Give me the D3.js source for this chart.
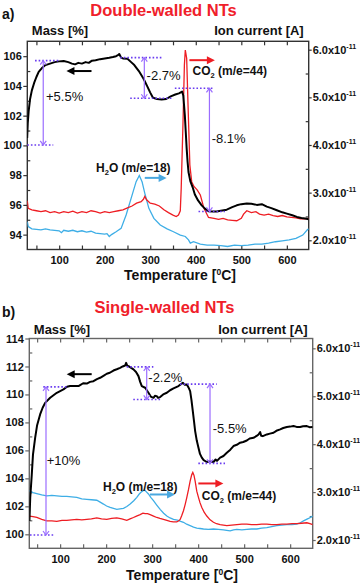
<!DOCTYPE html>
<html><head><meta charset="utf-8">
<script src="https://cdn.jsdelivr.net/npm/d3@7"></script>
<style>body{margin:0;background:#fff}svg{display:block}</style>
</head><body><svg id="c" width="360" height="583"></svg>
<script>
const FONT = '"Liberation Sans", Arial, sans-serif';
// ---- shared ticks ----
const tempTicks = [100, 200, 300, 400, 500, 600];
const tempMinor = [50, 100, 150, 200, 250, 300, 350, 400, 450, 500, 550, 600];
const ionTicks = [2, 3, 4, 5, 6];          // x10^-11 A
const ionMinor = [2.5, 3.5, 4.5, 5.5];
const massTicksA = [94, 96, 98, 100, 102, 104, 106];
const massMinorA = [95, 97, 99, 101, 103, 105];
const massTicksB = [100, 102, 104, 106, 108, 110, 112, 114];
const massMinorB = [101, 103, 105, 107, 109, 111, 113];

// ---- panel a: double-walled ----
const aMass = [[29.7,100.5],[31,101.5],[33,102.3],[36,103.1],[40,103.7],[45,104.2],[50,104.6],[55,104.95],[62,105.2],[70,105.4],[80,105.5],[90,105.6],[100,105.65],[110,105.68],[120,105.6],[128,105.5],[135,105.45],[142,105.55],[150,105.5],[158,105.6],[165,105.55],[172,105.7],[180,105.72],[190,105.8],[200,105.85],[210,105.9],[218,105.95],[225,106.0],[230,106.08],[232,106.15],[236,105.9],[240,105.85],[250,105.82],[258,105.6],[265,105.4],[275,105.0],[285,104.5],[293,104.0],[300,103.55],[306,103.2],[315,103.12],[325,103.08],[335,103.12],[345,103.3],[355,103.42],[363,103.5],[370,103.62],[372.5,103.36],[374,102.8],[376,102.0],[378,100.9],[380,99.78],[382,98.9],[384,98.21],[388,97.6],[393,97.2],[398,96.7],[405,96.3],[413,95.97],[420,95.75],[428,95.57],[438,95.55],[446,95.55],[455,95.6],[468,95.68],[480,95.85],[490,95.97],[500,96.05],[512,96.1],[522,96.08],[534,96.0],[545,96.05],[556,95.88],[566,95.78],[578,95.64],[590,95.5],[600,95.41],[612,95.3],[622,95.19],[632,95.12],[640,95.08],[648,95.03]];
const aCO2 = [[30,2.83],[32,2.67],[40,2.64],[50,2.62],[60,2.6],[70,2.62],[80,2.58],[90,2.6],[100,2.57],[110,2.6],[120,2.58],[130,2.61],[140,2.57],[150,2.6],[160,2.58],[170,2.62],[180,2.6],[190,2.57],[200,2.6],[210,2.58],[220,2.6],[230,2.62],[240,2.64],[250,2.68],[260,2.72],[270,2.78],[280,2.81],[285,2.86],[288,2.92],[292,2.85],[300,2.78],[310,2.76],[320,2.72],[330,2.64],[340,2.58],[350,2.53],[357,2.5],[362,2.53],[366,2.62],[368,3.09],[372,4.49],[375,5.68],[377,5.99],[380,5.82],[383,4.84],[387,3.58],[391,3.23],[396,3.13],[403,3.06],[410,2.95],[418,2.67],[428,2.48],[440,2.46],[450,2.44],[460,2.46],[470,2.43],[480,2.42],[490,2.41],[500,2.46],[505,2.55],[512,2.62],[522,2.58],[532,2.6],[540,2.55],[550,2.53],[560,2.55],[570,2.52],[580,2.5],[590,2.52],[600,2.49],[610,2.48],[620,2.47],[630,2.45],[640,2.45],[648,2.46]];
const aH2O = [[30,2.39],[32,2.29],[40,2.24],[50,2.23],[60,2.22],[70,2.24],[80,2.22],[90,2.21],[100,2.2],[105,2.16],[110,2.21],[120,2.19],[130,2.21],[140,2.18],[150,2.2],[160,2.17],[170,2.19],[180,2.15],[190,2.14],[200,2.13],[205,2.14],[210,2.08],[215,2.12],[225,2.18],[236,2.25],[247,2.53],[258,2.88],[269,3.23],[276,3.36],[282,3.23],[289,2.95],[297,2.67],[308,2.46],[322,2.32],[337,2.24],[351,2.18],[366,2.11],[377,2.08],[384,2.01],[388,1.94],[395,1.97],[410,1.92],[425,1.9],[440,1.9],[455,1.89],[470,1.87],[485,1.9],[500,1.89],[515,1.9],[530,1.92],[545,1.92],[560,1.94],[575,1.97],[590,1.99],[605,2.01],[620,2.04],[635,2.11],[645,2.22],[648,2.24]];
// steps: temperature of arrow, low/high mass, dotted extents, label position
const aSteps = [
  {label:"+5.5%", t:65, lo:100.03, hi:105.7, loSpan:[30,87], hiSpan:[47,102], lt:71, lm:103.28},
  {label:"-2.7%", t:287, lo:103.17, hi:105.9, loSpan:[256,351], hiSpan:[234,325], lt:292, lm:104.73},
  {label:"-8.1%", t:430, lo:95.56, hi:103.84, loSpan:[406,464], hiSpan:[354,438], lt:435, lm:100.47}
];
const aArrows = [
  {axis:"mass", t0:171, t1:116, v:105.0, color:"#000"},
  {axis:"ion", t0:386, t1:442, v:5.78, color:"#ee1d23"},
  {axis:"ion", t0:288, t1:336, v:3.31, color:"#4aa8e0"}
];
const aGasLabels = [
  {name:"H", sub:"2", rest:"O (m/e=18)", t:181, ion:3.52},
  {name:"CO", sub:"2", rest:" (m/e=44)", t:393, ion:5.55}
];

// ---- panel b: single-walled ----
const bMass = [[33.3,100.95],[35,102.6],[38.4,104.29],[41,105.7],[45.7,106.9],[50,107.8],[56.5,108.57],[62,109.05],[67.4,109.4],[78.3,109.76],[92.8,110.12],[107.2,110.36],[115,110.55],[121.7,110.6],[139.9,110.6],[143.5,110.67],[150,110.8],[158,110.78],[165,110.9],[172.5,110.95],[180,111.1],[187,111.19],[195,111.35],[201.4,111.48],[208,111.55],[215.9,111.71],[223,111.8],[230.4,111.9],[236,112.0],[241.3,112.07],[243.5,112.26],[246,112.05],[248.6,112.02],[259.4,111.79],[265,111.6],[270.3,111.31],[274,110.9],[277.5,110.6],[284.8,110.48],[292,110.12],[297,109.85],[302.9,109.76],[306,109.9],[310.1,109.88],[313,109.75],[317.4,109.81],[324,110.0],[331.9,110.12],[339,110.3],[346.4,110.43],[357.2,110.6],[362,110.72],[366.7,110.83],[371,110.7],[375.4,110.71],[379,110.5],[382.6,110.24],[385.5,109.6],[388.4,108.81],[391,108.1],[393.5,107.38],[397,106.7],[400.7,106.19],[404,105.75],[408,105.48],[412,105.3],[418.8,105.17],[425,105.2],[433.3,105.17],[438,105.35],[441,105.25],[447.8,105.48],[455,105.6],[462.3,105.83],[470,106.05],[476.8,106.31],[484,106.4],[491.3,106.55],[498,106.6],[505.8,106.71],[512,106.85],[520.3,106.9],[528,107.05],[531.2,107.14],[534.8,107.31],[537,107.05],[540.6,107.02],[549.3,107.14],[556,107.2],[563.8,107.26],[570,107.4],[578.3,107.5],[585,107.6],[592.8,107.67],[600,107.7],[607.2,107.74],[614,107.68],[621.7,107.67],[628,107.72],[636.2,107.74],[642,107.66],[649,107.67]];
const bH2O = [[33.3,3.03],[41,2.99],[49.3,2.97],[60,2.94],[71,2.92],[82,2.93],[92.8,2.92],[104,2.91],[114.5,2.91],[125,2.9],[136.2,2.89],[147,2.86],[158,2.85],[168,2.84],[179.7,2.83],[187,2.79],[194.2,2.75],[201,2.71],[208.7,2.68],[216,2.66],[223.2,2.64],[230,2.65],[237.7,2.66],[245,2.7],[252.2,2.75],[260,2.82],[266.7,2.89],[272,2.96],[277.5,3.01],[282,3.04],[284.8,3.03],[288,3.0],[292,2.96],[297,2.89],[302.9,2.82],[310,2.73],[317.4,2.64],[325,2.56],[331.9,2.5],[339,2.46],[346.4,2.43],[352,2.42],[357.2,2.41],[362,2.39],[368.1,2.37],[375,2.33],[382.6,2.3],[390,2.27],[397.1,2.25],[404,2.24],[411.6,2.23],[422,2.22],[433.3,2.23],[444,2.22],[455.1,2.21],[462,2.2],[469.6,2.19],[477,2.21],[484.1,2.22],[495,2.21],[505.8,2.22],[516,2.23],[527.5,2.23],[538,2.25],[549.3,2.26],[560,2.28],[571,2.3],[582,2.31],[592.8,2.32],[604,2.32],[614.5,2.33],[622,2.36],[629,2.4],[640,2.45],[649,2.5]];
const bCO2 = [[33.3,2.5],[41,2.49],[49.3,2.47],[60,2.43],[71,2.4],[82,2.4],[92.8,2.39],[104,2.41],[114.5,2.41],[125,2.42],[136.2,2.43],[147,2.42],[158,2.43],[168,2.44],[179.7,2.46],[190,2.44],[201.4,2.43],[212,2.45],[223.2,2.46],[234,2.44],[244.9,2.41],[252,2.44],[259.4,2.47],[266,2.5],[273.9,2.53],[280,2.56],[284.8,2.55],[290,2.55],[295.7,2.53],[303,2.5],[310.1,2.47],[317,2.45],[324.6,2.43],[332,2.41],[339.1,2.39],[346,2.38],[353.6,2.38],[358,2.4],[360.9,2.43],[364,2.5],[368.1,2.61],[372,2.75],[375.4,2.89],[379,3.05],[382.6,3.23],[386,3.36],[388.4,3.41],[391,3.35],[393.5,3.23],[397,3.02],[400.7,2.89],[404,2.78],[408,2.68],[413,2.58],[418.8,2.5],[426,2.42],[433.3,2.37],[440,2.34],[447.8,2.32],[455,2.31],[462.3,2.3],[473,2.31],[484.1,2.32],[495,2.33],[505.8,2.33],[516,2.32],[527.5,2.32],[538,2.33],[549.3,2.33],[560,2.32],[571,2.32],[582,2.33],[592.8,2.33],[604,2.34],[614.5,2.34],[625,2.35],[636.2,2.36],[643,2.34],[649,2.32]];
const bSteps = [
  {label:"+10%", t:69.3, lo:99.95, hi:110.54, loSpan:[34.5,89], hiSpan:[63.4,118], lt:70.8, lm:105.26},
  {label:"-2.2%", t:288.2, lo:109.64, hi:111.97, loSpan:[259,321], hiSpan:[244.7,302.6], lt:291.7, lm:111.21},
  {label:"-5.5%", t:425.8, lo:105.07, hi:110.74, loSpan:[400.4,458.4], hiSpan:[360.6,440.4], lt:431.7, lm:107.57}
];
const bArrows = [
  {axis:"mass", t0:168.6, t1:114.3, v:111.45, color:"#000"},
  {axis:"ion", t0:295.4, t1:349.8, v:2.95, color:"#4aa8e0"},
  {axis:"ion", t0:400.4, t1:454.8, v:3.18, color:"#ee1d23"}
];
const bGasLabels = [
  {name:"H", sub:"2", rest:"O (m/e=18)", t:193.2, ion:3.11},
  {name:"CO", sub:"2", rest:" (m/e=44)", t:407.8, ion:2.92}
];

const svg = d3.select("#c");
const RED = "#ee1d23", BLUE = "#3eaee6", PURPLE_DOT = "#6a3cf0", PURPLE = "#9b6dff";

function drawPanel(P) {
  const g = svg.append("g");
  const x = d3.scaleLinear().domain(P.tDom).range([P.L, P.R]);
  const yM = d3.scaleLinear().domain(P.mDom).range([P.B, P.T]);
  const yI = d3.scaleLinear().domain(P.iDom).range([P.B, P.T]);

  const ax = (gen, tx, ty) => {
    const a = g.append("g").attr("transform", `translate(${tx},${ty})`).call(gen);
    a.select(".domain").remove();
    a.selectAll("line").attr("stroke", P.axCol).attr("stroke-width", 1.2);
    a.selectAll("text").attr("font-family", FONT).attr("font-weight", "bold").attr("font-size", 11).attr("fill", "#111");
    return a;
  };
  ax(d3.axisBottom(x).tickValues(tempMinor).tickSize(-4).tickPadding(P.xPad).tickFormat(d => tempTicks.includes(d) ? d : ""), 0, P.B);
  ax(d3.axisTop(x).tickValues(tempMinor).tickSize(-4).tickFormat(""), 0, P.T);
  ax(d3.axisLeft(yM).tickValues(P.mTicks).tickSize(4).tickPadding(1.5), P.L, 0);
  ax(d3.axisLeft(yM).tickValues(P.mMinor).tickSize(-3).tickFormat(""), P.L, 0);
  const r = ax(d3.axisRight(yI).tickValues(ionTicks).tickSize(3).tickPadding(1).tickFormat(""), P.R, 0);
  r.selectAll(".tick text").each(function(d) {
    const t = d3.select(this);
    t.append("tspan").text(d.toFixed(1) + "x10");
    t.append("tspan").attr("font-size", 7).attr("dy", -5).text("-11");
  });
  ax(d3.axisRight(yI).tickValues(ionMinor).tickSize(-3).tickFormat(""), P.R, 0);

  g.append("rect").attr("x", P.L).attr("y", P.T).attr("width", P.R - P.L).attr("height", P.B - P.T)
    .attr("fill", "none").attr("stroke", P.axCol).attr("stroke-width", 1.4);

  const cid = "clip" + P.id;
  svg.append("clipPath").attr("id", cid).append("rect")
    .attr("x", P.L).attr("y", P.T).attr("width", P.R - P.L).attr("height", P.B - P.T);
  const plot = g.append("g").attr("clip-path", `url(#${cid})`);

  const lineI = d3.line().x(d => x(d[0])).y(d => yI(d[1]));
  const lineM = d3.line().x(d => x(d[0])).y(d => yM(d[1]));
  plot.append("path").datum(P.h2o).attr("d", lineI).attr("fill", "none").attr("stroke", BLUE).attr("stroke-width", 1.3);
  plot.append("path").datum(P.co2).attr("d", lineI).attr("fill", "none").attr("stroke", RED).attr("stroke-width", 1.3);
  plot.append("path").datum(P.mass).attr("d", lineM).attr("fill", "none").attr("stroke", "#000").attr("stroke-width", 2).attr("stroke-linejoin", "round");

  // mass steps
  P.steps.forEach(s => {
    const dot = (t0, t1, m) => g.append("line").attr("x1", x(t0)).attr("x2", x(t1)).attr("y1", yM(m)).attr("y2", yM(m))
      .attr("stroke", PURPLE_DOT).attr("stroke-width", 1.6).attr("stroke-dasharray", "1.6,2");
    dot(s.hiSpan[0], s.hiSpan[1], s.hi);
    dot(s.loSpan[0], s.loSpan[1], s.lo);
    const xv = x(s.t), y1 = yM(s.hi), y2 = yM(s.lo);
    g.append("line").attr("x1", xv).attr("x2", xv).attr("y1", y1).attr("y2", y2).attr("stroke", PURPLE).attr("stroke-width", 1.2);
    g.append("path").attr("d", `M${xv-3},${y1+4}L${xv},${y1}L${xv+3},${y1+4}M${xv-3},${y2-4}L${xv},${y2}L${xv+3},${y2-4}`)
      .attr("fill", "none").attr("stroke", PURPLE).attr("stroke-width", 1.2);
    g.append("text").attr("x", x(s.lt)).attr("y", yM(s.lm)).attr("dy", "0.35em")
      .attr("font-family", FONT).attr("font-size", 13).attr("fill", "#111").text(s.label);
  });

  // direction arrows
  P.arrows.forEach(a => {
    const y = a.axis === "mass" ? yM(a.v) : yI(a.v);
    const x0 = x(a.t0), x1 = x(a.t1), dir = Math.sign(x1 - x0);
    g.append("line").attr("x1", x0).attr("x2", x1 - dir * 6).attr("y1", y).attr("y2", y).attr("stroke", a.color).attr("stroke-width", 2);
    g.append("path").attr("d", `M${x1},${y}L${x1 - dir*8},${y-4}L${x1 - dir*8},${y+4}Z`).attr("fill", a.color);
  });

  // gas labels
  P.gas.forEach(l => {
    const t = g.append("text").attr("x", x(l.t)).attr("y", yI(l.ion)).attr("dy", "0.35em")
      .attr("font-family", FONT).attr("font-weight", "bold").attr("font-size", 12).attr("fill", "#111");
    t.append("tspan").text(l.name);
    t.append("tspan").attr("font-size", 7.5).attr("dy", 3).text(l.sub);
    t.append("tspan").attr("dy", -3).text(l.rest);
  });

  // titles
  const txt = (xx, yy, s, size, anchor, fill) => g.append("text").attr("x", xx).attr("y", yy).attr("text-anchor", anchor || "start")
    .attr("font-family", FONT).attr("font-weight", "bold").attr("font-size", size).attr("fill", fill || "#111").text(s);
  txt(2, P.titleY + 3.5, P.tag, 14);
  txt(P.titleX, P.titleY, P.title, 16.5, "middle", "#f0202a");
  txt(P.L + 4.5, P.headY, "Mass [%]", 13);
  txt(P.R - 5, P.headY, "Ion current [A]", 13, "end");
  const tl = g.append("text").attr("x", P.tempX).attr("y", P.tempY).attr("text-anchor", "middle")
    .attr("font-family", FONT).attr("font-weight", "bold").attr("font-size", 14).attr("fill", "#111");
  tl.append("tspan").text("Temperature [");
  tl.append("tspan").attr("font-size", 8.5).attr("dy", -5).text("0");
  tl.append("tspan").attr("dy", 5).text("C]");
}

drawPanel({id:"a", L:27.3, R:308.7, T:41.3, B:249.5, tDom:[30,648], mDom:[93,107], iDom:[1.807,6.176],
  mTicks:massTicksA, mMinor:massMinorA, axCol:"#333", xPad:7,
  mass:aMass, co2:aCO2, h2o:aH2O, steps:aSteps, arrows:aArrows, gas:aGasLabels,
  tag:"a)", title:"Double-walled NTs", titleX:163.5, titleY:15.5, headY:34.5, tempX:180, tempY:280});
drawPanel({id:"b", L:29.3, R:312.7, T:338.5, B:548.3, tDom:[33,649], mDom:[99,114], iDom:[1.827,6.205],
  mTicks:massTicksB, mMinor:massMinorB, axCol:"#666", xPad:6.5,
  mass:bMass, co2:bCO2, h2o:bH2O, steps:bSteps, arrows:bArrows, gas:bGasLabels,
  tag:"b)", title:"Single-walled NTs", titleX:164.5, titleY:313, headY:333.5, tempX:182, tempY:580});
</script></body></html>
